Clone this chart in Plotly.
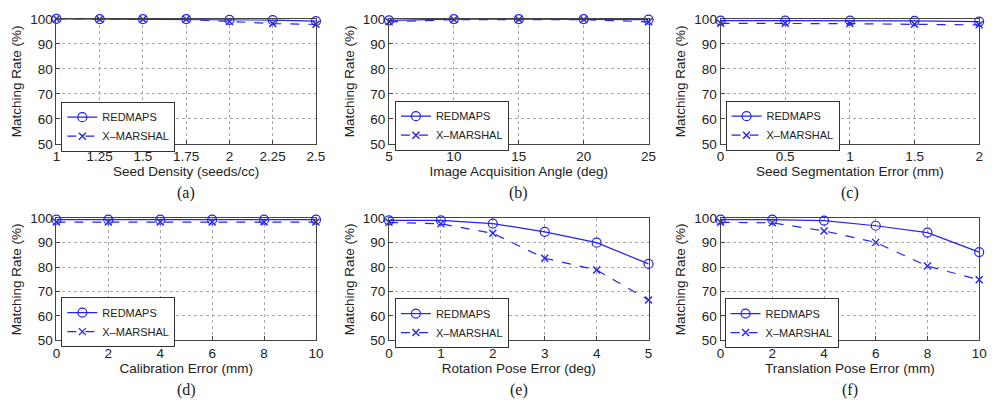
import plotly.graph_objects as go

# ---------------- data ----------------
x_a = [1, 1.25, 1.5, 1.75, 2, 2.25, 2.5]
red_a = [100, 99.9, 99.9, 99.9, 99.6, 99.5, 99.1]
xm_a = [100, 99.8, 99.8, 99.8, 98.9, 98.1, 97.8]

x_b = [5, 10, 15, 20, 25]
red_b = [99.4, 99.9, 99.9, 99.9, 99.7]
xm_b = [98.8, 99.7, 99.7, 99.7, 98.8]

x_c = [0, 0.5, 1, 1.5, 2]
red_c = [99.3, 99.3, 99.3, 99.2, 98.9]
xm_c = [98.2, 98.2, 98.1, 97.8, 97.6]

x_d = [0, 2, 4, 6, 8, 10]
red_d = [99.4, 99.4, 99.4, 99.4, 99.4, 99.4]
xm_d = [98.4, 98.4, 98.4, 98.4, 98.4, 98.4]

x_e = [0, 1, 2, 3, 4, 5]
red_e = [99.1, 99.1, 97.8, 94.4, 90.0, 81.3]
xm_e = [98.3, 97.7, 93.8, 83.6, 78.8, 66.5]

x_f = [0, 2, 4, 6, 8, 10]
red_f = [99.4, 99.4, 99.0, 96.9, 94.1, 86.1]
xm_f = [98.3, 98.1, 94.8, 90.1, 80.4, 74.8]

x_titles = ["Seed Density (seeds/cc)", "Image Acquisition Angle (deg)",
            "Seed Segmentation Error (mm)", "Calibration Error (mm)",
            "Rotation Pose Error (deg)", "Translation Pose Error (mm)"]
captions = ["(a)", "(b)", "(c)", "(d)", "(e)", "(f)"]
x_ticks = [[1, 1.25, 1.5, 1.75, 2, 2.25, 2.5], [5, 10, 15, 20, 25],
           [0, 0.5, 1, 1.5, 2], [0, 2, 4, 6, 8, 10], [0, 1, 2, 3, 4, 5],
           [0, 2, 4, 6, 8, 10]]
x_ticktext = [["1", "1.25", "1.5", "1.75", "2", "2.25", "2.5"],
              ["5", "10", "15", "20", "25"],
              ["0", "0.5", "1", "1.5", "2"],
              ["0", "2", "4", "6", "8", "10"],
              ["0", "1", "2", "3", "4", "5"],
              ["0", "2", "4", "6", "8", "10"]]
y_ticks = [50, 60, 70, 80, 90, 100]
series_names = ["REDMAPS", "X\u2013MARSHAL"]

panels = [(x_a, red_a, xm_a), (x_b, red_b, xm_b), (x_c, red_c, xm_c),
          (x_d, red_d, xm_d), (x_e, red_e, xm_e), (x_f, red_f, xm_f)]

# ---------------- layout geometry (page pixels; page body has 8px margin) ----------------
OFF = 8
W, H = 1001 - OFF, 412 - OFF
col_px = [(53, 316), (390, 653), (726, 988)]
row_px = [(12, 142), (219, 346)]
legend_px = [(58, 98), (396, 97), (731, 97), (58, 301), (396, 302), (730, 302)]


def px_x(v):
    return (v - OFF) / W


def px_y(v):
    return 1 - (v - OFF) / H


BLUE = "#2323f2"
fig = go.Figure()
layout = dict(
    width=W, height=H, margin=dict(l=0, r=0, t=0, b=0),
    paper_bgcolor="white", plot_bgcolor="white",
    font=dict(family="Liberation Sans, Arial, sans-serif", size=13, color="#222"),
    annotations=[],
)

for i, (xs, red, xm) in enumerate(panels):
    r, c = divmod(i, 3)
    n = i + 1
    xa = "x" if n == 1 else f"x{n}"
    ya = "y" if n == 1 else f"y{n}"
    lg = "legend" if n == 1 else f"legend{n}"
    fig.add_trace(go.Scatter(
        x=xs, y=red, name=series_names[0], mode="lines+markers",
        line=dict(color=BLUE, width=1.2),
        marker=dict(symbol="circle-open", size=9, color=BLUE, line=dict(width=1.2)),
        xaxis=xa, yaxis=ya, legend=lg, cliponaxis=False))
    fig.add_trace(go.Scatter(
        x=xs, y=xm, name=series_names[1], mode="lines+markers",
        line=dict(color=BLUE, width=1.2, dash="dash"),
        marker=dict(symbol="x-thin-open", size=7, color=BLUE, line=dict(width=1.4, color=BLUE)),
        xaxis=xa, yaxis=ya, legend=lg, cliponaxis=False))

    x0, x1 = col_px[c]
    y0, y1 = row_px[r]
    xkey = "xaxis" if n == 1 else f"xaxis{n}"
    ykey = "yaxis" if n == 1 else f"yaxis{n}"
    common = dict(showline=True, mirror=True, linecolor="#444", linewidth=1,
                  showgrid=True, gridcolor="#a8a8a8", griddash="dot", gridwidth=1,
                  zeroline=False, ticks="inside", ticklen=4, tickcolor="#444",
                  tickfont=dict(size=13.5, color="#222"))
    layout[xkey] = dict(common, domain=[px_x(x0), px_x(x1)], anchor=ya,
                        range=[x_ticks[i][0], x_ticks[i][-1]],
                        tickmode="array", tickvals=x_ticks[i], ticktext=x_ticktext[i],
                        title=dict(text=x_titles[i], font=dict(size=13.5), standoff=3))
    layout[ykey] = dict(common, domain=[px_y(y1), px_y(y0)], anchor=xa,
                        range=[50, 100], tickmode="array", tickvals=y_ticks,
                        title=dict(text="Matching Rate (%)", font=dict(size=13.5), standoff=5))
    lx, ly = legend_px[i]
    layout[lg] = dict(x=px_x(lx), y=px_y(ly), xanchor="left", yanchor="top",
                      bgcolor="white", bordercolor="#333", borderwidth=1,
                      font=dict(size=11, color="#222"), itemwidth=30,
                      tracegroupgap=0, traceorder="normal")
    layout["annotations"].append(dict(
        text=captions[i], x=px_x((x0 + x1) / 2), y=px_y(y1 + 51),
        xref="paper", yref="paper", showarrow=False, xanchor="center", yanchor="middle",
        font=dict(family="Liberation Serif, Times New Roman, serif", size=16, color="#222")))

fig.update_layout(**layout)
fig.write_html("out.html")
